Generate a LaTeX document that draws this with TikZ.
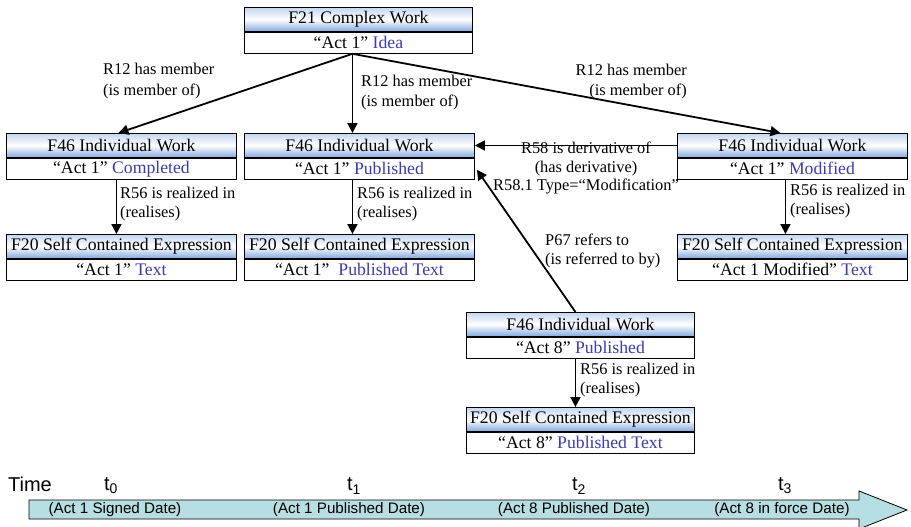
\documentclass[tikz,border=0pt]{standalone}
\usepackage{fontspec}
\setmainfont{Liberation Serif}
\newfontfamily\arialf{Liberation Sans}
\usetikzlibrary{arrows.meta,calc}
\definecolor{hdrtop}{RGB}{196,214,240}
\definecolor{hdrbot}{RGB}{130,168,222}
\definecolor{kwblue}{RGB}{60,60,175}
\definecolor{timefill}{RGB}{183,222,226}
\tikzset{
 hdr/.style={draw=black, line width=0.9pt, top color=hdrtop, bottom color=hdrbot, middle color=white, inner sep=0pt, minimum height=24pt, font=\fontsize{17.7}{20}\selectfont, anchor=north west},
 bdy/.style={draw=black, line width=0.9pt, fill=white, inner sep=0pt, minimum height=21pt, font=\fontsize{17.7}{20}\selectfont, anchor=north},
 rel/.style={-{Triangle[length=10pt,width=10pt]}, line width=1.8pt},
 lbl/.style={font=\fontsize{16.4}{18.5}\selectfont, align=center, inner sep=0pt},
 lbll/.style={lbl, align=left, anchor=west},
 lblr/.style={lbl, align=right, anchor=east},
 tlbl/.style={font=\arialf\fontsize{15.2}{16}\selectfont, inner sep=0pt},
 tick/.style={font=\arialf\fontsize{20}{22}\selectfont, inner sep=0pt},
}
\newcommand\kw[1]{\textcolor{kwblue}{#1}}
\newcommand\crmbox[6]{%
 \node[hdr, minimum width=#4pt] (#1h) at (#2,#3) {#5};
 \node[bdy, minimum width=#4pt] (#1b) at (#1h.south) {#6};}
\begin{document}
\begin{tikzpicture}[x=1pt,y=-1pt]
\useasboundingbox (0,0) rectangle (911,527);
\crmbox{cw}{244}{7}{228}{F21 Complex Work}{“Act 1” \kw{Idea}}
\crmbox{wa}{6}{133}{230}{F46 Individual Work}{“Act 1” \kw{Completed}}
\crmbox{ea}{6}{234}{230}{F20 Self Contained Expression}{“Act 1” \kw{Text}}
\crmbox{wb}{244}{133}{230}{F46 Individual Work}{“Act 1” \kw{Published}}
\crmbox{eb}{244}{234}{230}{F20 Self Contained Expression}{“Act 1”\ \ \kw{Published Text}}
\crmbox{wc}{677}{133}{230}{F46 Individual Work}{“Act 1” \kw{Modified}}
\crmbox{ec}{677}{234}{230}{F20 Self Contained Expression}{“Act 1 Modified” \kw{Text}}
\crmbox{wd}{466}{312}{228}{F46 Individual Work}{“Act 8” \kw{Published}}
\crmbox{ed}{466}{407}{228}{F20 Self Contained Expression}{“Act 8” \kw{Published Text}}
% R12
\coordinate (src) at ([xshift=-6pt]cwb.south);
\draw[rel] (src) -- ([xshift=-3pt]wah.north);
\draw[rel] (src) -- ([xshift=-7pt]wbh.north);
\draw[rel] (src) -- ([xshift=-12pt]wch.north);
\node[lbll, font=\fontsize{16.4}{20.5}\selectfont] at (103,81) {R12 has member\\(is member of)};
\node[lbll, font=\fontsize{16.4}{20}\selectfont] at (361,93) {R12 has member\\(is member of)};
\node[lblr, font=\fontsize{16.4}{20.5}\selectfont] at (687,81.5) {R12 has member\\(is member of)};
% R56
\draw[rel] ([xshift=-5pt]wab.south) -- ([xshift=-5pt]eah.north);
\draw[rel] ([xshift=-7pt]wbb.south) -- ([xshift=-7pt]ebh.north);
\draw[rel] ([xshift=-7pt]wcb.south) -- ([xshift=-7pt]ech.north);
\draw[rel] ([xshift=-5pt]wdb.south) -- ([xshift=-5pt]edh.north);
\node[lbll] at (120,204) {R56 is realized in\\(realises)};
\node[lbll] at (357,204) {R56 is realized in\\(realises)};
\node[lbll] at (790,201) {R56 is realized in\\(realises)};
\node[lbll] at (580,380) {R56 is realized in\\(realises)};
% R58
\draw[rel] (wch.west) -- (wbh.east);
\node[lbl] at (586,168) {R58 is derivative of\\(has derivative)\\R58.1 Type=“Modification”};
% P67
\draw[rel] ([xshift=-5pt]wdh.north) -- ([xshift=2pt,yshift=10pt]wbb.south east);
\node[lbll] at (545,251) {P67 refers to\\(is referred to by)};
% Timeline
\draw[fill=timefill, line width=0.8pt] (29,500) -- (859,500) -- (859,491) -- (907,510) -- (859,529) -- (859,519) -- (29,519) -- cycle;
\node[tick] at (30,484) {Time};
\node[tick] at (111,486) {t\textsubscript{0}};
\node[tick] at (354,486) {t\textsubscript{1}};
\node[tick] at (579,486) {t\textsubscript{2}};
\node[tick] at (785,486) {t\textsubscript{3}};
\node[tlbl] at (115,510) {(Act 1 Signed Date)};
\node[tlbl] at (349,510) {(Act 1 Published Date)};
\node[tlbl] at (574,510) {(Act 8 Published Date)};
\node[tlbl] at (782,510) {(Act 8 in force Date)};
\end{tikzpicture}
\end{document}
